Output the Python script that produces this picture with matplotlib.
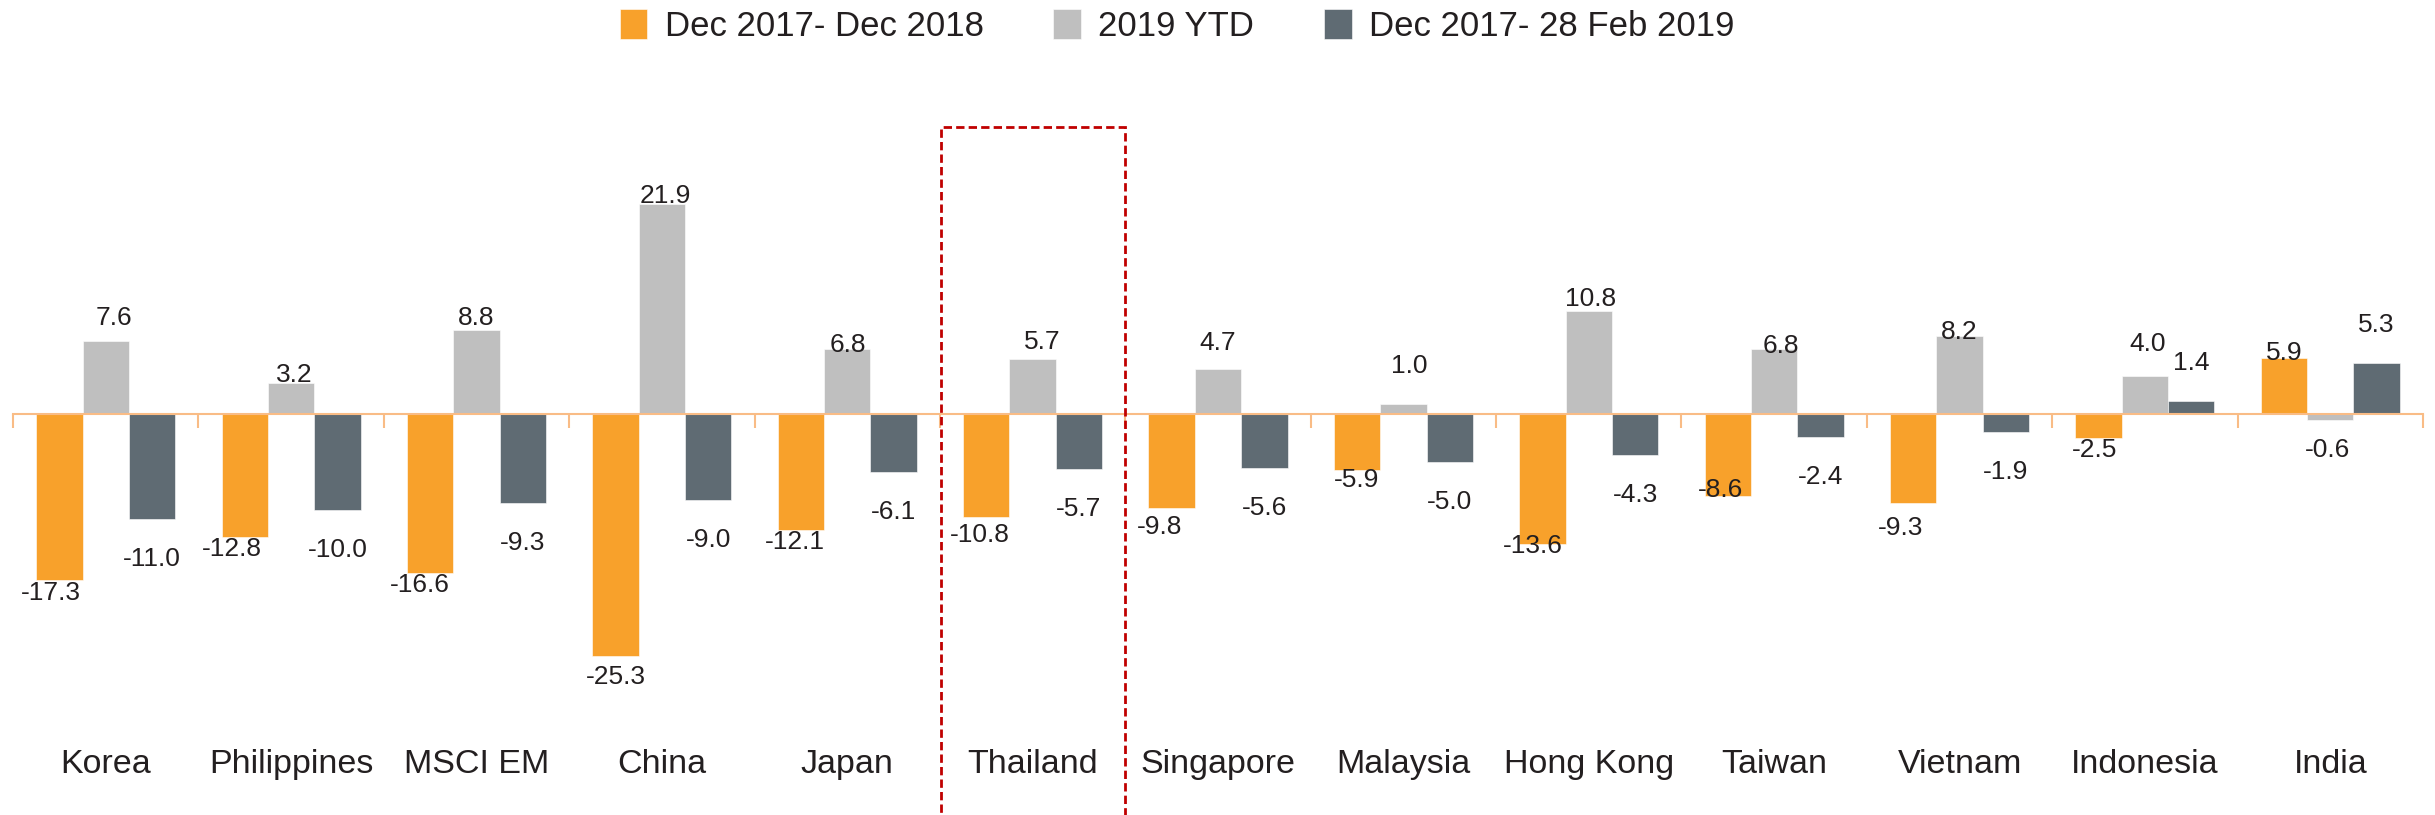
# Grouped bar chart: equity market returns by country
import numpy as np
import matplotlib.pyplot as plt
from matplotlib.patches import Rectangle
from matplotlib.transforms import blended_transform_factory

plt.rcParams['font.family'] = ['Liberation Sans', 'DejaVu Sans']

# Data
categories = ['Korea', 'Philippines', 'MSCI EM', 'China', 'Japan', 'Thailand', 'Singapore',
              'Malaysia', 'Hong Kong', 'Taiwan', 'Vietnam', 'Indonesia', 'India']
dec2018 = [-17.3, -12.8, -16.6, -25.3, -12.1, -10.8, -9.8, -5.9, -13.6, -8.6, -9.3, -2.5, 5.9]
ytd2019 = [7.6, 3.2, 8.8, 21.9, 6.8, 5.7, 4.7, 1.0, 10.8, 6.8, 8.2, 4.0, -0.6]
feb2019 = [-11.0, -10.0, -9.3, -9.0, -6.1, -5.7, -5.6, -5.0, -4.3, -2.4, -1.9, 1.4, 5.3]
series_names = ['Dec 2017- Dec 2018', '2019 YTD', 'Dec 2017- 28 Feb 2019']
highlight = 'Thailand'

# Label placement (pixel offsets of the label centre from the bar end, +y is up)
dec2018_dx = [-8, -13, -10, 0, -6, -6, -12, 0, -10, -7, -13, -4, 0]
dec2018_dy = [-13, -12, -12, -21, -12, -18, -19, -10, -2, 6, -25, -12, 5]
ytd2019_dx = [8, 3, 0, 3, 1, 10, 0, 6, 2, 7, 0, 3, -3]
ytd2019_dy = [23, 8, 12, 8, 4, 17, 26, 38, 12, 3, 4, 32, -30]
feb2019_dy_neg = -40
feb2019_dy_pos = 38

colors = ['#F8A12B', '#BFBFBF', '#5F6B73']
axis_color = '#F9BC86'
text_color = '#231F20'

fig = plt.figure(figsize=(24.35, 8.15), dpi=100)
ax = fig.add_axes([13 / 2435, 0.081, 2410 / 2435, 0.7633])

x = np.arange(len(categories))
w = 0.25
bars = []
for k, vals in enumerate([dec2018, ytd2019, feb2019]):
    b = ax.bar(x + (k - 1) * w, vals, width=w, color=colors[k], label=series_names[k],
               edgecolor='white', linewidth=0.4, zorder=2)
    bars.append(b)

# Value labels
lab = dict(ha='center', va='center', fontsize=19, color=text_color,
           textcoords='offset pixels', annotation_clip=False)
for i in range(len(categories)):
    ax.annotate(f'{dec2018[i]:.1f}', xy=(x[i] - w, dec2018[i]),
                xytext=(dec2018_dx[i], dec2018_dy[i]), **lab)
    ax.annotate(f'{ytd2019[i]:.1f}', xy=(x[i], ytd2019[i]),
                xytext=(ytd2019_dx[i], ytd2019_dy[i]), **lab)
    dy = feb2019_dy_pos if feb2019[i] > 0 else feb2019_dy_neg
    ax.annotate(f'{feb2019[i]:.1f}', xy=(x[i] + w, feb2019[i]), xytext=(0, dy), **lab)

ax.set_xlim(-0.5, len(categories) - 0.5)
ax.set_ylim(-35, 30)

# Axis at zero with tick marks between categories
for s in ['top', 'right', 'left']:
    ax.spines[s].set_visible(False)
ax.spines['bottom'].set_position(('data', 0))
ax.spines['bottom'].set_color(axis_color)
ax.spines['bottom'].set_linewidth(1.5)
ax.spines['bottom'].set_zorder(3)
ax.set_xticks(np.arange(len(categories) + 1) - 0.5)
ax.tick_params(axis='x', direction='out', length=10, width=1.5, color=axis_color,
               labelbottom=False)
ax.set_yticks([])

# Category labels along the bottom
tr = blended_transform_factory(ax.transData, fig.transFigure)
for i, c in enumerate(categories):
    ax.text(x[i], 0.062, c, transform=tr, ha='center', va='center',
            fontsize=24.5, color=text_color)

# Dashed box around the highlighted market
hi = categories.index(highlight)
box = Rectangle((hi - 0.495, -0.05), 0.993, 0.894, transform=tr, fill=False,
                edgecolor='#C00000', linewidth=2, linestyle=(0, (3, 1.5)),
                clip_on=False, zorder=4)
ax.add_patch(box)

# Legend
fig.legend(handles=bars, labels=series_names, loc='center left',
           bbox_to_anchor=(0.2545, 0.968), ncol=3, frameon=False, fontsize=25,
           handlelength=0.8, handleheight=0.95, handletextpad=0.5,
           columnspacing=2.0, borderpad=0, borderaxespad=0, labelcolor=text_color)

fig.savefig('out.png', dpi=100)
